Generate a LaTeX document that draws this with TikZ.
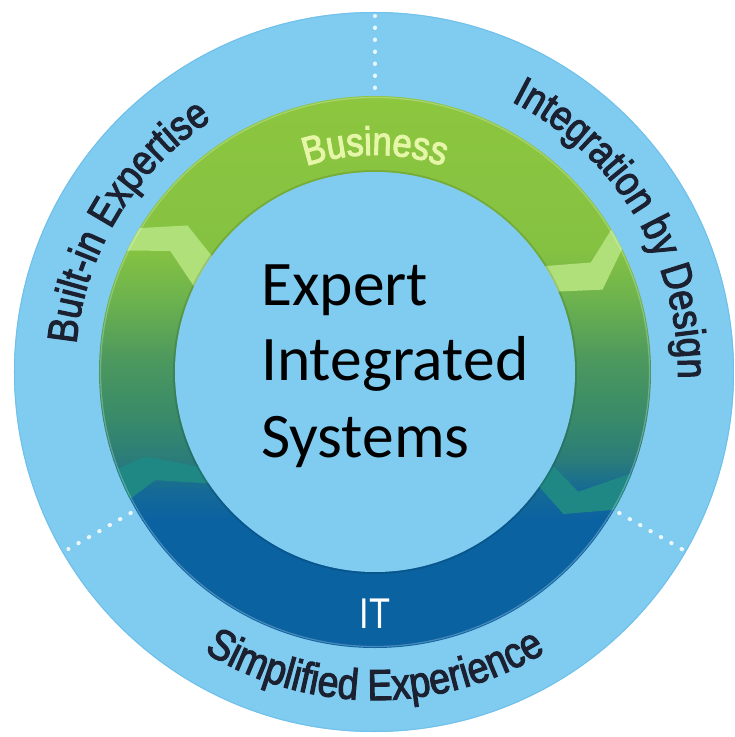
\documentclass[tikz,border=0pt]{standalone}
\usepackage{fontspec}
\setmainfont{Carlito}
\newfontfamily\arcfont[FakeStretch=0.86,FakeBold=2.5]{Liberation Sans}
\newfontfamily\itfont[FakeStretch=0.8]{Liberation Sans}
\newfontfamily\centerfont{Carlito}
\usetikzlibrary{decorations.text}
\definecolor{skyblue}{RGB}{128,204,241}
\definecolor{skyrim}{RGB}{112,192,234}
\definecolor{ringtop}{RGB}{141,198,63}
\definecolor{ringgA}{RGB}{133,194,66}
\definecolor{ringgB}{RGB}{108,178,78}
\definecolor{ringgC}{RGB}{76,152,94}
\definecolor{ringtA}{RGB}{56,138,106}
\definecolor{ringtB}{RGB}{42,124,122}
\definecolor{ringbA}{RGB}{20,106,150}
\definecolor{ringbB}{RGB}{11,98,161}
\definecolor{chevlight}{RGB}{176,224,122}
\definecolor{chevteal}{RGB}{32,136,132}
\definecolor{arctext}{RGB}{27,33,48}
\definecolor{bizcolor}{RGB}{230,246,168}
% leading outer/apex/inner angle, trailing outer/apex/inner angle, apex radius, colour
\newcommand{\mychevron}[8]{%
  \fill[#8] (#1:282pt) -- (#2:#7pt) -- (#3:194pt) -- (#6:194pt) -- (#5:#7pt) -- (#4:282pt) -- cycle;%
}
\begin{document}
\begin{tikzpicture}[
  dots/.style={white, opacity=0.85, line width=4pt, line cap=round, dash pattern=on 0.5pt off 11.5pt},
  arcstyle/.style={decorate, decoration={text along path, text align=center, text={#1}}},
  centertext/.style={anchor=base west, inner sep=0pt, font=\centerfont\fontsize{63.5}{76}\selectfont, text=black}
]
\useasboundingbox (-375pt,-365pt) rectangle (360pt,372pt);
\fill[white] (-375pt,-365pt) rectangle (360pt,372pt);
% outer disc
\fill[skyblue] (-1pt,0pt) circle[radius=360pt];
\draw[skyrim, line width=1pt] (-1pt,0pt) circle[radius=359.5pt];
% dotted separators
\draw[dots] (90:284pt) -- (90:356pt);
\draw[dots] (210:282pt) -- (210:354pt);
\draw[dots] (330:282pt) -- (330:356pt);
% ring
\begin{scope}
  \clip (0,0) circle[radius=276pt];
  \shade[top color=ringtop, bottom color=ringgA] (-280pt,121.5pt) rectangle (280pt,280pt);
  \shade[top color=ringgA, bottom color=ringgB] (-280pt,71.5pt) rectangle (280pt,122pt);
  \shade[top color=ringgB, bottom color=ringgC] (-280pt,11.5pt) rectangle (280pt,72pt);
  \shade[top color=ringgC, bottom color=ringtA] (-280pt,-48.5pt) rectangle (280pt,12pt);
  \shade[top color=ringtA, bottom color=ringtB] (-280pt,-88.5pt) rectangle (280pt,-48pt);
  \shade[top color=ringtB, bottom color=ringbA] (-280pt,-118.5pt) rectangle (280pt,-88pt);
  \shade[top color=ringbA, bottom color=ringbB] (-280pt,-148.5pt) rectangle (280pt,-118pt);
  \fill[ringbB] (-280pt,-280pt) rectangle (280pt,-148pt);
  % chevrons
  \mychevron{149.4}{142}{145.1}{154.5}{149.4}{155.8}{238}{chevlight}
  \mychevron{27.4}{19.9}{24.4}{31.7}{26.9}{32.9}{242}{chevlight}
  \mychevron{200.7}{200.2}{209.7}{207.6}{206.2}{215.2}{245}{chevteal}
  \mychevron{-29.1}{-37}{-34.5}{-20.5}{-30.5}{-27.1}{236}{chevteal}
\end{scope}
\draw[white, opacity=0.25, line width=1.2pt] (0,0) circle[radius=274.5pt];
\draw[black, opacity=0.12, line width=2pt] (0,0) circle[radius=201pt];
% inner disc
\fill[skyblue] (0,0) circle[radius=200pt];
% ring labels
\path[arcstyle={|\arcfont\fontsize{40}{40}\selectfont\color{bizcolor}|Business}]
  (160:217pt) arc[start angle=160, end angle=20, radius=217pt];
\node[anchor=base, inner sep=0pt, font=\itfont\fontsize{43}{43}\selectfont, text=white] (it) at (0pt,-256pt) {IT};
% outer labels
\path[arcstyle={|\arcfont\fontsize{42}{42}\selectfont\color{arctext}|Built-in Expertise}]
  (218.8:300pt) arc[start angle=218.8, end angle=78.8, radius=300pt];
\path[arcstyle={|\arcfont\fontsize{42}{42}\selectfont\color{arctext}|Integration by Design}]
  (101:303pt) arc[start angle=101, end angle=-39, radius=303pt];
\path[arcstyle={|\arcfont\fontsize{43.5}{43.5}\selectfont\color{arctext}|Simplified Experience}]
  (-160:328pt) arc[start angle=-160, end angle=-20, radius=328pt];
% centre text
\node[centertext] (t1) at (-114pt,67pt) {Expert};
\node[centertext] (t2) at (-114pt,-8pt) {Integrated};
\node[centertext] (t3) at (-114pt,-85pt) {Systems};
\end{tikzpicture}
\end{document}
